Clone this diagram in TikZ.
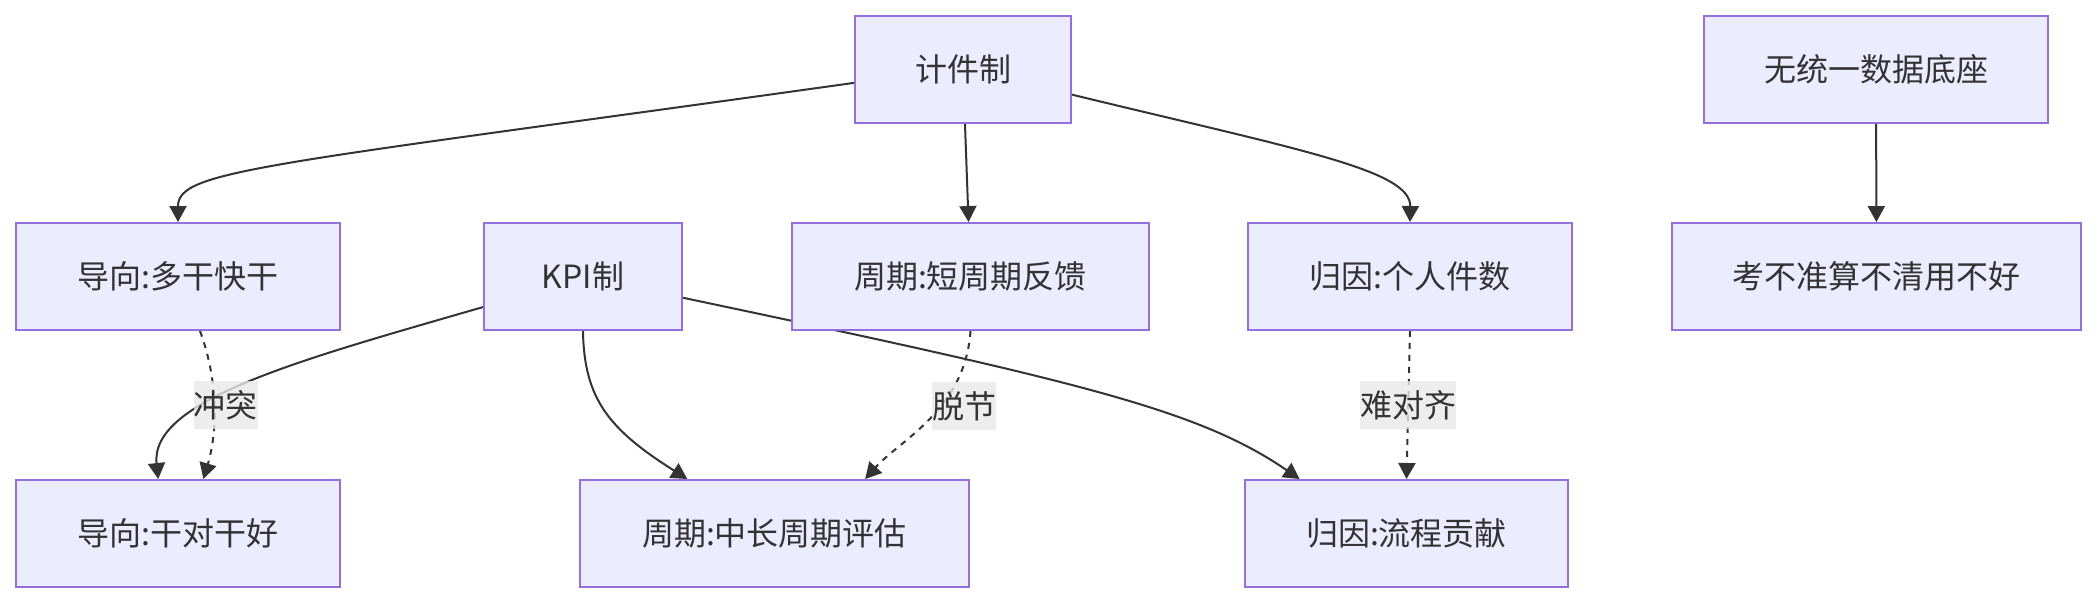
\documentclass[tikz,border=0pt]{standalone}
\usepackage{fontspec}
\setmainfont{Noto Sans CJK SC}
\usetikzlibrary{arrows.meta}
\definecolor{boxfill}{HTML}{ECECFF}
\definecolor{boxline}{HTML}{9370DB}
\definecolor{ink}{HTML}{333333}
\definecolor{lblfill}{HTML}{E8E8E8}
\pgfdeclarelayer{edges}
\pgfsetlayers{edges,main}

\begin{document}
\begin{tikzpicture}[x=0.375pt,y=-0.375pt,font=\fontsize{12}{14}\selectfont,>={Triangle[length=6pt,width=6.4pt]}]
\tikzset{box/.style={draw=boxline,fill=boxfill,line width=0.75pt,text=ink,minimum height=40.1pt,inner sep=0pt},
  link/.style={draw=ink,line width=0.75pt},
  dots/.style={link,dash pattern=on 2.25pt off 2.25pt},
  lbl/.style={fill=lblfill,fill opacity=0.8,text opacity=1,text=ink,inner sep=0pt,minimum height=18pt}}
\useasboundingbox (0,0) rectangle (2096,604);
\node[box,minimum width=81pt] (jijian) at (963,69.5) {计件制};
\node[box,minimum width=129pt] (nodata) at (1876,69.5) {无统一数据底座};
\node[box,minimum width=121.5pt] (guide1) at (178,276.5) {导向:多干快干};
\node[box,minimum width=74.25pt] (kpi) at (583,276.5) {KPI制};
\node[box,minimum width=133.9pt] (short) at (970.5,276.5) {周期:短周期反馈};
\node[box,minimum width=121.5pt] (attr) at (1410,276.5) {归因:个人件数};
\node[box,minimum width=153.4pt] (bad) at (1876.5,276.5) {考不准算不清用不好};
\node[box,minimum width=121.5pt] (guide2) at (178,533.5) {导向:干对干好};
\node[box,minimum width=145.9pt] (long) at (774.5,533.5) {周期:中长周期评估};
\node[box,minimum width=121.1pt] (proc) at (1406.5,533.5) {归因:流程贡献};
\begin{pgfonlayer}{edges}
\draw[link,->] (jijian.187.6) .. controls (260,166) and (178,170) .. (guide1.north);
\draw[link,->] (jijian) -- (short);
\draw[link,->] (jijian.-13.3) .. controls (1300,150) and (1411,170) .. (attr.north);
\draw[link,->] (nodata) -- (bad);
\draw[link,->] (kpi.197) .. controls (300,360) and (150,400) .. (guide2.110);
\draw[link,->] (kpi.south) .. controls (584,400) and (610,430) .. (long.148.6);
\draw[link,->] (kpi.-12.3) .. controls (1082,382) and (1199,410) .. (proc.153.5);
\draw[dots,->] (guide1.-68.6) .. controls (218,380) and (218,430) .. node[lbl,pos=0.5,xshift=4.5pt] {冲突} (guide2.65);
\draw[dots,->] (short.south) .. controls (965,410) and (900,440) .. node[lbl,pos=0.4,xshift=8.6pt] {脱节} (long.31.45);
\draw[dots,->] (attr.south) -- node[lbl] {难对齐} (proc.north);
\end{pgfonlayer}
\end{tikzpicture}
\end{document}
